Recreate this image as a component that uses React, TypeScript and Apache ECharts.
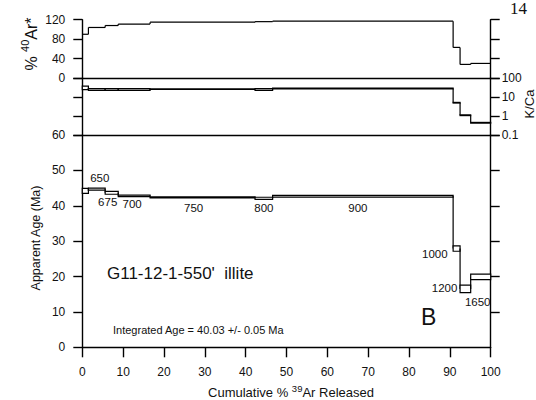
import React, { useEffect, useRef } from 'react';
import * as echarts from 'echarts';

// Heating steps: cumulative % 39Ar at the start of each step (the last ends at 100)
const cumStart = [0, 1.5, 5.6, 8.8, 16.6, 42.3, 46.6, 90.8, 92.5, 95.1];
const stepTemps = ['', '650', '675', '700', '750', '800', '900', '1000', '1200', '1650'];

// % radiogenic 40Ar per step
const radiogenicPct = [90, 104, 108, 111, 115, 116, 117, 63, 28, 30];

// K/Ca per step and its uncertainty
const kCa = [31, 25, 25, 25, 26, 25, 28, 5.0, 1.1, 0.44];
const kCaErr = [6.5, 2.5, 2.5, 2.5, 1.2, 2.5, 1, 0.2, 0.05, 0.02];

// Apparent age (Ma) per step and its uncertainty
const ageMa = [44.2, 44.7, 43.65, 42.8, 42.4, 42.1, 42.7, 27.9, 16.5, 19.9];
const ageErr = [0.7, 0.3, 0.4, 0.2, 0.15, 0.3, 0.25, 0.75, 1.05, 0.8];

// Axis ticks
const xTicks = [0, 10, 20, 30, 40, 50, 60, 70, 80, 90, 100];
const arTicks = [0, 40, 80, 120];
const ageTicks = [0, 10, 20, 30, 40, 50, 60];

// Step label placement: [side, [dx, dy]]
const tempLabelPlacement: [string, [number, number]][] = [
  ['top', [0, 0]],
  ['top', [3, 0]],
  ['bottom', [-4, -2]],
  ['bottom', [-2, -3]],
  ['bottom', [-9, 0]],
  ['bottom', [0, -1]],
  ['bottom', [-5, 1]],
  ['left', [-4, 5]],
  ['left', [-3, -1]],
  ['bottom', [-3, 14]],
];

const cumEnd = [...cumStart.slice(1), 100];

const FONT = "'Liberation Sans', Arial, sans-serif";
const NARROW = "'Liberation Sans Narrow', 'Liberation Sans', Arial, sans-serif";
const INK = '#000';
const TEXT = '#111';

const axisLine = { show: true, onZero: false, lineStyle: { color: INK, width: 1.4 } };

function stepSeries(xIdx: number, yIdx: number, values: number[], errs: number[] | null, lw: number) {
  return {
    type: 'custom',
    xAxisIndex: xIdx,
    yAxisIndex: yIdx,
    silent: true,
    data: values.map((v, i) => [cumStart[i], cumEnd[i], v]),
    encode: { x: [0, 1], y: 2 },
    renderItem: (params: any, api: any) => {
      const i = params.dataIndex;
      const v = values[i];
      const err = errs ? errs[i] : 0;
      const children: any[] = [];
      if (i > 0) {
        const c0 = api.coord([cumStart[i], values[i - 1]]);
        const c1 = api.coord([cumStart[i], v]);
        children.push({
          type: 'line',
          shape: { x1: c0[0], y1: c0[1], x2: c1[0], y2: c1[1] },
          style: { stroke: INK, lineWidth: lw },
        });
      }
      if (err > 0) {
        const a = api.coord([cumStart[i], v + err]);
        const b = api.coord([cumEnd[i], v - err]);
        children.push({
          type: 'rect',
          shape: { x: a[0], y: a[1], width: b[0] - a[0], height: b[1] - a[1] },
          style: { fill: '#fff', stroke: INK, lineWidth: lw },
        });
      } else {
        const a = api.coord([cumStart[i], v]);
        const b = api.coord([cumEnd[i], v]);
        children.push({
          type: 'line',
          shape: { x1: a[0], y1: a[1], x2: b[0], y2: b[1] },
          style: { stroke: INK, lineWidth: lw },
        });
      }
      return { type: 'group', children };
    },
  };
}

// Temperature label of each step, anchored on the step's midpoint
const tempLabelSeries = {
  type: 'custom',
  xAxisIndex: 2,
  yAxisIndex: 4,
  silent: true,
  z: 5,
  data: stepTemps.map((t, i) => [(cumStart[i] + cumEnd[i]) / 2, ageMa[i]]),
  encode: { x: 0, y: 1 },
  renderItem: (params: any, api: any) => {
    const i = params.dataIndex;
    const text = stepTemps[i];
    if (!text) return null;
    const p = api.coord([api.value(0), api.value(1)]);
    const [side, [dx, dy]] = tempLabelPlacement[i];
    let x = p[0] + dx;
    let y = p[1] + dy;
    let align = 'center';
    let verticalAlign = 'middle';
    if (side === 'top') {
      y -= 5;
      verticalAlign = 'bottom';
    } else if (side === 'bottom') {
      y += 5;
      verticalAlign = 'top';
    } else {
      x -= 5;
      align = 'right';
    }
    return {
      type: 'text',
      x,
      y,
      style: { text, align, verticalAlign, fontSize: 11.5, fontFamily: FONT, fill: TEXT },
    };
  },
};

const grids = [
  { left: 82.3, right: 45.3, top: 19.7, height: 58.3 },
  { left: 82.3, right: 45.3, top: 78, height: 57 },
  { left: 82.3, right: 45.3, top: 135, height: 212.3 },
];

const hiddenX = (g: number) => ({
  gridIndex: g,
  type: 'value',
  min: 0,
  max: 100,
  axisLine,
  axisTick: { show: false },
  axisLabel: { show: false },
  splitLine: { show: false },
});

const tickStyle = (len: number) => ({ show: true, length: len, lineStyle: { color: INK, width: 1.4 } });
const labelStyle = (margin: number) => ({ margin, fontSize: 12, fontFamily: FONT, color: TEXT });

const option: any = {
  animation: false,
  backgroundColor: '#fff',
  grid: grids,
  xAxis: [
    hiddenX(0),
    hiddenX(1),
    {
      gridIndex: 2,
      type: 'value',
      min: xTicks[0],
      max: xTicks[xTicks.length - 1],
      interval: 10,
      axisLine,
      axisTick: tickStyle(10),
      axisLabel: labelStyle(19),
      splitLine: { show: false },
    },
  ],
  yAxis: [
    {
      gridIndex: 0,
      type: 'value',
      position: 'left',
      min: arTicks[0],
      max: arTicks[arTicks.length - 1],
      interval: 40,
      axisLine,
      axisTick: tickStyle(9),
      axisLabel: labelStyle(17),
      splitLine: { show: false },
    },
    {
      gridIndex: 0,
      type: 'value',
      position: 'right',
      min: arTicks[0],
      max: arTicks[arTicks.length - 1],
      interval: 40,
      axisLine,
      axisTick: tickStyle(9),
      axisLabel: { show: false },
      splitLine: { show: false },
    },
    {
      gridIndex: 1,
      type: 'log',
      logBase: 10,
      position: 'left',
      min: 0.1,
      max: 100,
      axisLine,
      axisTick: tickStyle(9),
      axisLabel: { show: false },
      splitLine: { show: false },
    },
    {
      gridIndex: 1,
      type: 'log',
      logBase: 10,
      position: 'right',
      min: 0.1,
      max: 100,
      axisLine,
      axisTick: tickStyle(9),
      axisLabel: labelStyle(11),
      splitLine: { show: false },
    },
    {
      gridIndex: 2,
      type: 'value',
      position: 'left',
      min: ageTicks[0],
      max: ageTicks[ageTicks.length - 1],
      interval: 10,
      axisLine,
      axisTick: tickStyle(9),
      axisLabel: labelStyle(17),
      splitLine: { show: false },
    },
    {
      gridIndex: 2,
      type: 'value',
      position: 'right',
      min: ageTicks[0],
      max: ageTicks[ageTicks.length - 1],
      interval: 10,
      axisLine,
      axisTick: { ...tickStyle(9), customValues: ageTicks.slice(1) },
      axisLabel: { show: false },
      splitLine: { show: false },
    },
  ],
  series: [
    stepSeries(0, 0, radiogenicPct, null, 1.2),
    stepSeries(1, 2, kCa, kCaErr, 1.2),
    stepSeries(2, 4, ageMa, ageErr, 1.2),
    tempLabelSeries,
  ],
  graphic: [
    {
      type: 'text',
      x: 29,
      y: 44,
      rotation: Math.PI / 2,
      style: {
        text: '{n|% }{s|40}{n|Ar*}',
        align: 'center',
        verticalAlign: 'middle',
        fill: TEXT,
        rich: {
          n: { fontSize: 16, lineHeight: 20, fontFamily: FONT, fill: TEXT, verticalAlign: 'bottom' },
          s: { fontSize: 11, lineHeight: 14, fontFamily: FONT, fill: TEXT, verticalAlign: 'top' },
        },
      },
    },
    {
      type: 'text',
      x: 529,
      y: 104,
      rotation: Math.PI / 2,
      style: { text: 'K/Ca', align: 'center', verticalAlign: 'middle', fontSize: 13, fontFamily: FONT, fill: TEXT },
    },
    {
      type: 'text',
      x: 36,
      y: 238,
      rotation: Math.PI / 2,
      style: {
        text: 'Apparent Age (Ma)',
        align: 'center',
        verticalAlign: 'middle',
        fontSize: 12.5,
        fontFamily: NARROW,
        fill: TEXT,
      },
    },
    {
      type: 'text',
      x: 291,
      y: 391,
      style: {
        text: '{n|Cumulative % }{s|39}{n|Ar Released}',
        align: 'center',
        verticalAlign: 'middle',
        fill: TEXT,
        rich: {
          n: { fontSize: 13, lineHeight: 15, fontFamily: NARROW, fill: TEXT, verticalAlign: 'bottom' },
          s: { fontSize: 9.5, lineHeight: 11, fontFamily: NARROW, fill: TEXT, verticalAlign: 'top' },
        },
      },
    },
    {
      type: 'text',
      x: 107,
      y: 273,
      style: {
        text: "G11-12-1-550'  illite",
        align: 'left',
        verticalAlign: 'middle',
        fontSize: 17,
        fontFamily: FONT,
        fill: TEXT,
      },
    },
    {
      type: 'text',
      x: 113,
      y: 330,
      style: {
        text: 'Integrated Age = 40.03 +/- 0.05 Ma',
        align: 'left',
        verticalAlign: 'middle',
        fontSize: 11,
        fontFamily: FONT,
        fill: TEXT,
      },
    },
    {
      type: 'text',
      x: 421,
      y: 317,
      style: { text: 'B', align: 'left', verticalAlign: 'middle', fontSize: 23, fontFamily: FONT, fill: TEXT },
    },
    {
      type: 'text',
      x: 510,
      y: 0,
      style: {
        text: '14',
        align: 'left',
        verticalAlign: 'top',
        fontSize: 17,
        fontFamily: "'Liberation Serif', 'DejaVu Serif', serif",
        fill: TEXT,
      },
    },
  ],
};

export default function App() {
  const ref = useRef<HTMLDivElement>(null);
  useEffect(() => {
    const chart = echarts.init(ref.current!, null, { renderer: 'svg' });
    chart.setOption(option);
    return () => chart.dispose();
  }, []);
  return (
    <div
      ref={ref}
      style={{ position: 'fixed', left: 0, top: 0, width: 536, height: 400, background: '#fff' }}
    />
  );
}
